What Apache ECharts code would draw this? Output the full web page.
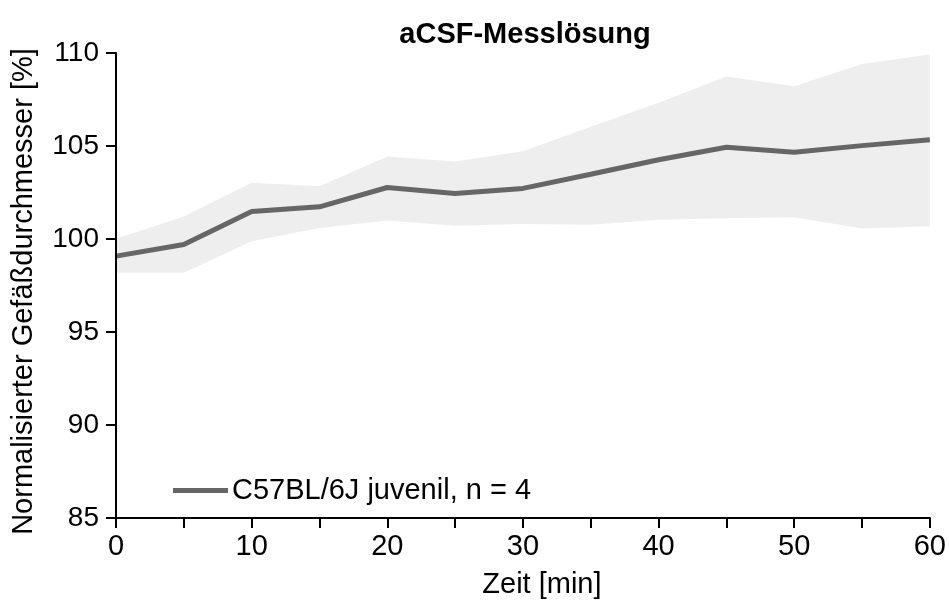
<!DOCTYPE html>
<html>
<head>
<meta charset="utf-8">
<script src="https://cdn.jsdelivr.net/npm/echarts@6/dist/echarts.min.js"></script>
<style>
  html, body { margin: 0; padding: 0; background: #ffffff; }
  #chart { width: 949px; height: 604px; }
</style>
</head>
<body>
<div id="chart"></div>
<script>
// Time points (min)
const timeMin = [0, 5, 10, 15, 20, 25, 30, 35, 40, 45, 50, 55, 60];
// Mean normalised vessel diameter (%)
const meanDiameter = [99.08, 99.70, 101.48, 101.73, 102.77, 102.45, 102.72, 103.48, 104.26, 104.93, 104.66, 105.02, 105.34];
// Spread band: upper and lower bounds (%)
const upperBound = [100.02, 101.21, 103.02, 102.84, 104.44, 104.17, 104.72, 106.04, 107.32, 108.73, 108.21, 109.41, 109.92];
const lowerBound = [98.19, 98.19, 99.88, 100.59, 101.0, 100.71, 100.80, 100.77, 101.04, 101.12, 101.17, 100.57, 100.69];
// Y axis tick values
const yTicks = [85, 90, 95, 100, 105, 110];

const seriesName = 'C57BL/6J juvenil, n = 4';
const fontFamily = '"Liberation Sans", Arial, Helvetica, sans-serif';

const bandRows = timeMin.map((t, i) => [t, lowerBound[i], upperBound[i]]);
const meanPts = timeMin.map((t, i) => [t, meanDiameter[i]]);

// Shaded band: one polygon through the upper bounds and back along the lower bounds
function renderBand(params, api) {
  if (params.dataIndex !== 0) return null;
  const pts = [];
  for (let i = 0; i < timeMin.length; i++) pts.push(api.coord([timeMin[i], upperBound[i]]));
  for (let i = timeMin.length - 1; i >= 0; i--) pts.push(api.coord([timeMin[i], lowerBound[i]]));
  return {
    type: 'polygon',
    shape: { points: pts },
    style: { fill: '#eeeeee', stroke: null }
  };
}

const chart = echarts.init(document.getElementById('chart'), null, { renderer: 'canvas' });
chart.setOption({
  animation: false,
  backgroundColor: '#ffffff',
  textStyle: { fontFamily: fontFamily },
  title: {
    text: 'aCSF-Messlösung',
    left: 520,
    top: 15,
    textAlign: 'center',
    textStyle: { fontFamily: fontFamily, fontSize: 29, fontWeight: 'bold', color: '#000' }
  },
  legend: {
    data: [seriesName],
    left: 173,
    top: 476,
    padding: 0,
    icon: 'rect',
    itemWidth: 55,
    itemHeight: 5,
    itemGap: 4,
    textStyle: { fontFamily: fontFamily, fontSize: 29, color: '#000', padding: [0, 0, 0, -1] }
  },
  grid: { left: 116, right: 19, top: 53, bottom: 82, containLabel: false },
  xAxis: {
    type: 'value',
    min: 0,
    max: 60,
    interval: 10,
    name: 'Zeit [min]',
    nameLocation: 'middle',
    nameGap: 52,
    nameTextStyle: { fontFamily: fontFamily, fontSize: 29, color: '#000', padding: [0, 0, 0, 38] },
    axisLine: { show: true, onZero: false, lineStyle: { color: '#000', width: 2 } },
    axisTick: { show: true, length: 10, lineStyle: { color: '#000', width: 2 } },
    minorTick: { show: true, splitNumber: 2, length: 10, lineStyle: { color: '#000', width: 2 } },
    axisLabel: { fontFamily: fontFamily, fontSize: 29, color: '#000', margin: 14 },
    splitLine: { show: false },
    z: 5
  },
  yAxis: {
    type: 'value',
    min: yTicks[0],
    max: yTicks[yTicks.length - 1],
    interval: 5,
    name: 'Normalisierter Gefäßdurchmesser [%]',
    nameLocation: 'middle',
    nameGap: 78,
    nameTextStyle: { fontFamily: fontFamily, fontSize: 29, color: '#000', padding: [0, 12, 0, 0] },
    axisLine: { show: true, lineStyle: { color: '#000', width: 2 } },
    axisTick: { show: true, length: 10, lineStyle: { color: '#000', width: 2 } },
    axisLabel: { fontFamily: fontFamily, fontSize: 28, color: '#000', margin: 17 },
    splitLine: { show: false },
    z: 5
  },
  series: [
    {
      name: 'band',
      type: 'custom',
      renderItem: renderBand,
      data: bandRows,
      encode: { x: 0, y: [1, 2] },
      silent: true,
      z: 1
    },
    {
      name: seriesName,
      type: 'line',
      data: meanPts,
      symbol: 'none',
      color: '#666666',
      lineStyle: { color: '#666666', width: 5 },
      z: 3
    }
  ]
});
</script>
</body>
</html>
